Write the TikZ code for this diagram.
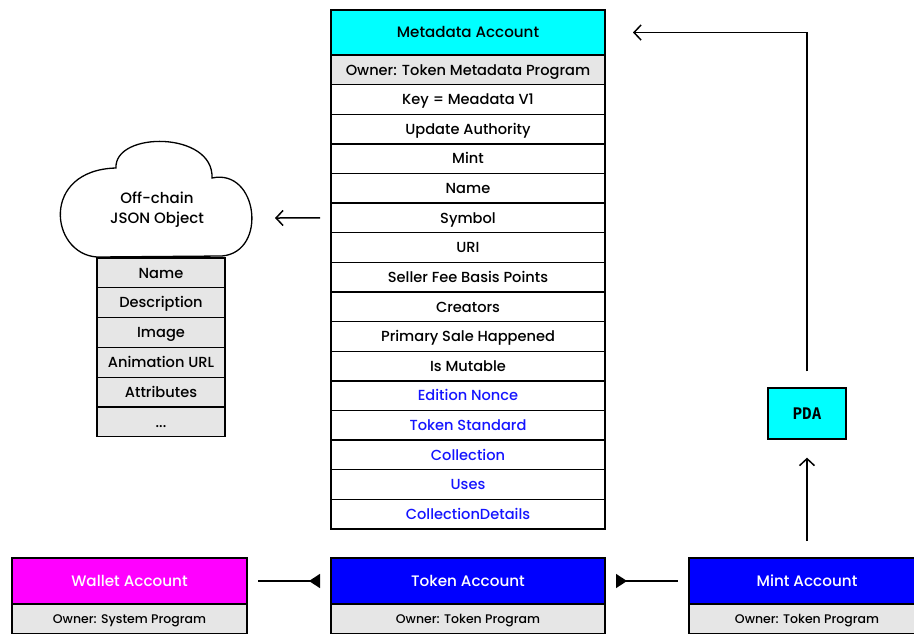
\documentclass[tikz,border=0pt]{standalone}
\usepackage{fontspec}
\setmainfont{Poppins}[UprightFont={* Medium}]
\newfontfamily\pdafont{DejaVu Sans Mono}
\usetikzlibrary{arrows.meta}
\definecolor{cy}{HTML}{00FFFF}
\definecolor{mg}{HTML}{FF00FF}
\definecolor{bl}{HTML}{0000FF}
\definecolor{gr}{HTML}{E6E6E6}
\definecolor{bt}{HTML}{1414FF}
\begin{document}
\begin{tikzpicture}[x=1pt,y=-1pt,
  box/.style={draw=black,line width=1.3pt,anchor=north west,inner sep=0pt,outer sep=0pt,
    text height=11pt,text depth=0.5pt},
  mrow/.style={box,minimum width=274pt,minimum height=29.625pt,font=\fontsize{14.6}{16}\selectfont},
  jrow/.style={box,fill=gr,minimum width=128pt,minimum height=29.8pt,font=\fontsize{14.6}{16}\selectfont},
  hdr/.style={box,minimum height=46pt,font=\fontsize{15.2}{17}\selectfont},
  own/.style={box,fill=gr,minimum height=30pt,font=\fontsize{12.5}{14}\selectfont,text height=9.5pt},
  blue/.style={text=bt},
  arr/.style={line width=1.5pt,-{Straight Barb[length=7pt,width=15pt,line width=1.5pt]}},
  tri/.style={line width=1.5pt,{Triangle[reversed,length=11pt,width=14pt]}-}
]
\clip (0,0) rectangle (914,633);
% Metadata account table
\node[mrow,fill=cy,minimum height=45pt,font=\fontsize{15.1}{17}\selectfont] (meta) at (331,10) {Metadata Account};
\node[mrow,fill=gr] (r1) at (331,55) {Owner: Token Metadata Program};
\node[mrow] (r2) at (331,84.625) {Key = Meadata V1};
\node[mrow] (r3) at (331,114.25) {Update Authority};
\node[mrow] (r4) at (331,143.875) {Mint};
\node[mrow] (r5) at (331,173.5) {Name};
\node[mrow] (r6) at (331,203.125) {Symbol};
\node[mrow] (r7) at (331,232.75) {URI};
\node[mrow] (r8) at (331,262.375) {Seller Fee Basis Points};
\node[mrow] (r9) at (331,292) {Creators};
\node[mrow] (r10) at (331,321.625) {Primary Sale Happened};
\node[mrow] (r11) at (331,351.25) {Is Mutable};
\node[mrow,blue] (r12) at (331,380.875) {Edition Nonce};
\node[mrow,blue] (r13) at (331,410.5) {Token Standard};
\node[mrow,blue] (r14) at (331,440.125) {Collection};
\node[mrow,blue] (r15) at (331,469.75) {Uses};
\node[mrow,blue] (r16) at (331,499.375) {CollectionDetails};
% Off-chain JSON object
\draw[line width=1.3pt,fill=white] (97,257) .. controls (50,254) and (40,170) .. (116,168)
  .. controls (114,131) and (214,131) .. (212,178)
  .. controls (258,168) and (268,252) .. (222,256) -- cycle;
\node[font=\fontsize{15}{20}\selectfont,align=center] (cloud) at (157,209.5) {Off-chain\\JSON Object};
\coordinate (cloudE) at (252,218);
\node[jrow] (j1) at (97,258) {Name};
\node[jrow] (j2) at (97,287.8) {Description};
\node[jrow] (j3) at (97,317.6) {Image};
\node[jrow] (j4) at (97,347.4) {Animation URL};
\node[jrow] (j5) at (97,377.2) {Attributes};
\node[jrow] (j6) at (97,407) {...};
% PDA
\node[draw=black,line width=1.3pt,fill=cy,minimum width=78pt,minimum height=51pt,inner sep=0pt,
  font=\pdafont\bfseries\fontsize{16}{18}\selectfont] (pda) at (807,413.5) {PDA};
% Bottom accounts
\node[hdr,fill=mg,text=white,minimum width=235pt] (wallet) at (12,558) {Wallet Account};
\node[own,minimum width=235pt] (walletown) at (12,604) {Owner: System Program};
\node[hdr,fill=bl,text=white,minimum width=274pt] (token) at (331,558) {Token Account};
\node[own,minimum width=274pt] (tokenown) at (331,604) {Owner: Token Program};
\node[hdr,fill=bl,text=white,minimum width=236pt] (mint) at (689,558) {Mint Account};
\node[own,minimum width=236pt] (mintown) at (689,604) {Owner: Token Program};
% Connectors
\draw[arr] ([xshift=-11pt]r6.west) -- ([xshift=23pt]cloudE);
\draw[arr] ([yshift=16pt]pda.north) |- ([xshift=28pt]meta.east);
\draw[arr] ([yshift=17pt]mint.north) -- ([yshift=-18pt]pda.south);
\draw[tri] ([xshift=-11pt]token.west) -- ([xshift=11pt]wallet.east);
\draw[tri] ([xshift=11pt]token.east) -- ([xshift=-11pt]mint.west);
\end{tikzpicture}
\end{document}
